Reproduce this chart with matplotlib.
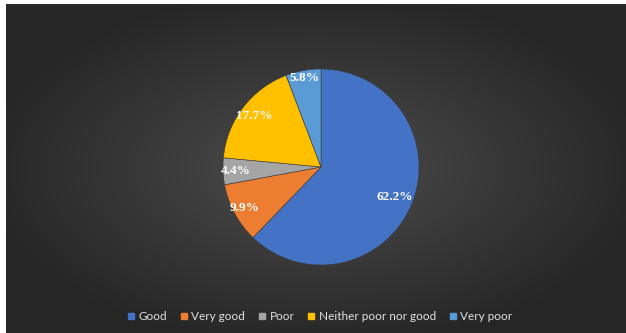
import numpy as np
import matplotlib.pyplot as plt
from matplotlib.lines import Line2D

labels = ["Good", "Very good", "Poor", "Neither poor nor good", "Very poor"]
values = [62.2, 9.9, 4.4, 17.7, 5.8]
colors = ["#4472C4", "#ED7D31", "#A5A5A5", "#FFC000", "#5B9BD5"]
label_dist = [0.81, 0.88, 0.87, 0.86, 0.92]

W, H = 626, 333
fig = plt.figure(figsize=(W / 100, H / 100), dpi=100)
fig.patch.set_facecolor("white")

# dark radial background (white strip on left/top edges like the source image)
bg = fig.add_axes([6 / W, 0, 1 - 6 / W, 1 - 4 / H])
yy, xx = np.mgrid[-1:1:200j, -1:1:400j]
r = np.sqrt(xx ** 2 + yy ** 2)
r = np.clip(r / 1.1, 0, 1)
c0, c1 = 0.31, 0.15
img = c0 + (c1 - c0) * r ** 0.9
bg.imshow(np.dstack([img, img, img]), aspect="auto", extent=(0, 1, 0, 1))
bg.set_axis_off()

# pie
cx, cy, rad = 321 / W, 1 - 167 / H, 100
ax = fig.add_axes([cx - rad / W, cy - rad / H, 2 * rad / W, 2 * rad / H])
wedges, texts = ax.pie(
    values, colors=colors, startangle=90, counterclock=False,
    wedgeprops=dict(linewidth=0.4, edgecolor="#3a3a3a"),
)
for w, v, d in zip(wedges, values, label_dist):
    ang = np.deg2rad((w.theta1 + w.theta2) / 2)
    ax.text(d * np.cos(ang), d * np.sin(ang), f"{v}%", ha="center", va="center",
            color="white", fontsize=9.5, family="Liberation Serif", fontweight="bold")
ax.set_xlim(-1.02, 1.02)
ax.set_ylim(-1.02, 1.02)
ax.set_aspect("equal")

handles = [Line2D([], [], marker="s", linestyle="none", markersize=5,
                  markerfacecolor=c, markeredgecolor=c) for c in colors]
fig.legend(handles, labels, loc="center", bbox_to_anchor=(320 / W, 1 - 317 / H),
           ncol=5, frameon=False, labelcolor="#e0e0e0",
           handlelength=0.6, handletextpad=0.3, columnspacing=1.15,
           prop=dict(family="Lato", size=8.5))

fig.savefig("out.png", dpi=100)
